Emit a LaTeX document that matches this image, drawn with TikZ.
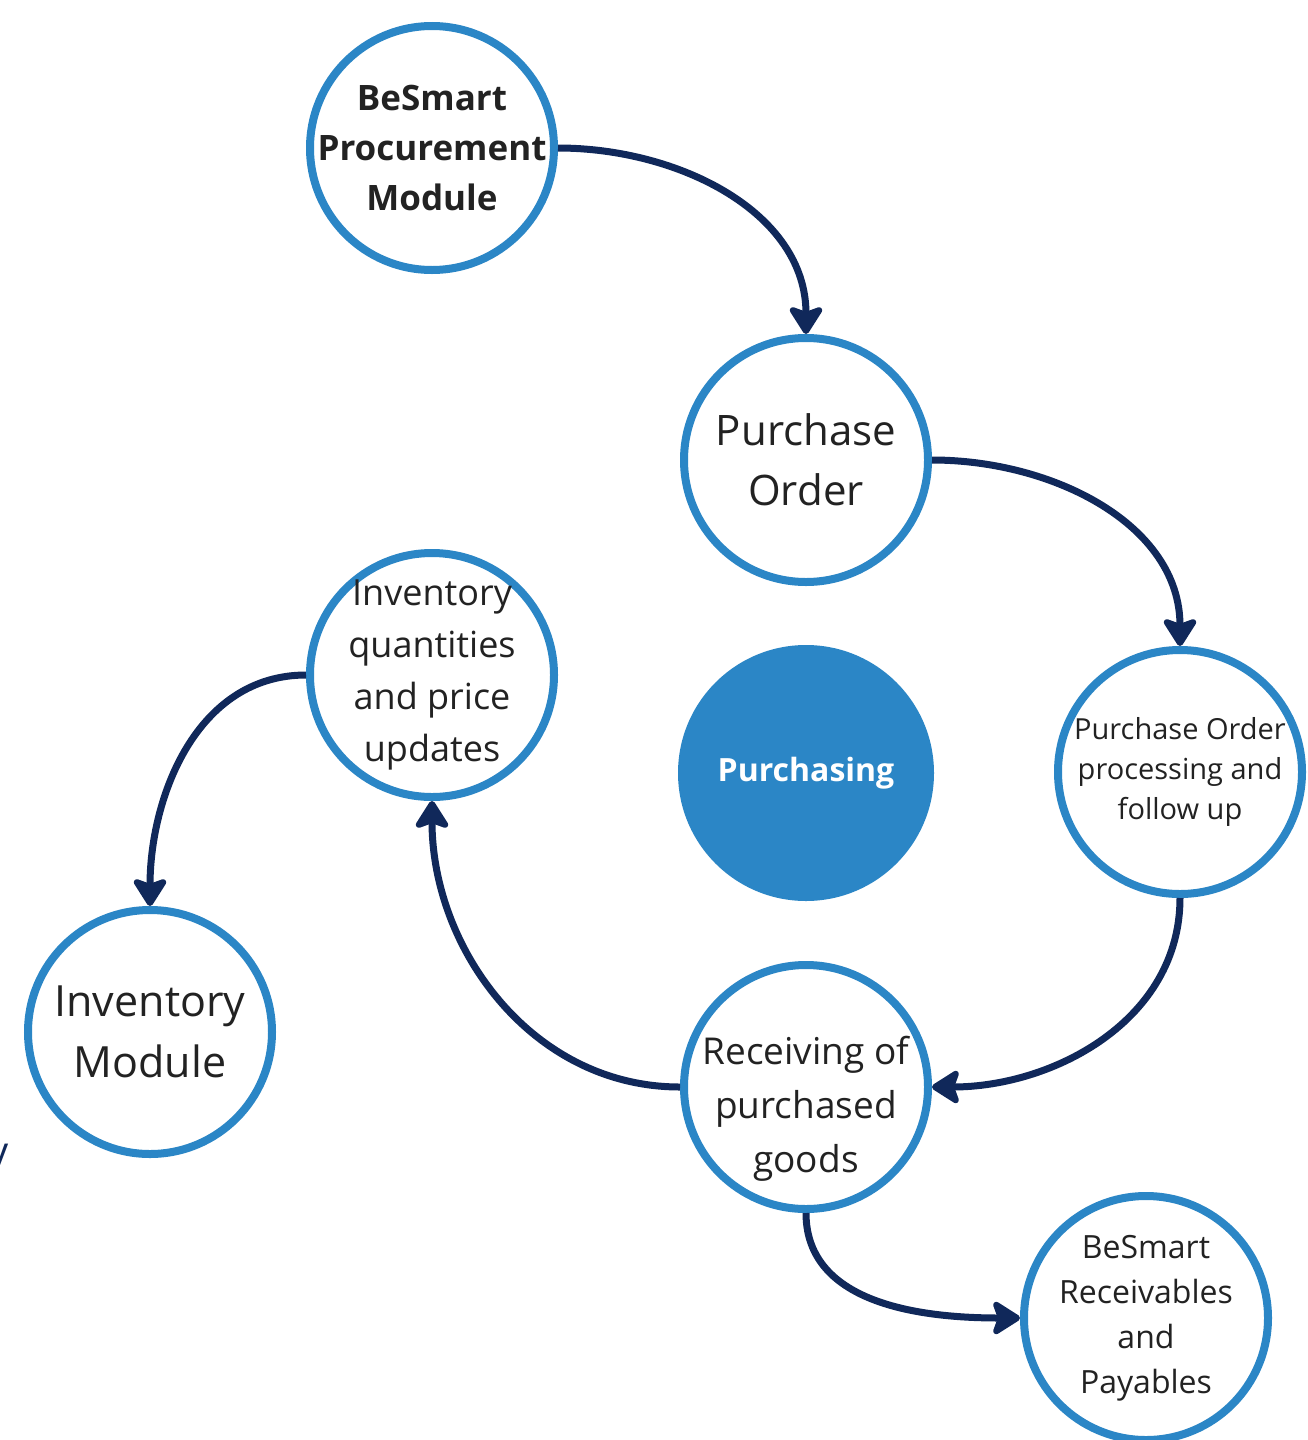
\documentclass[tikz,border=0pt]{standalone}
\usepackage{fontspec}
\setmainfont{Open Sans}
\usepackage{xcolor}
\usetikzlibrary{arrows.meta}
\definecolor{ringblue}{HTML}{2B86C6}
\definecolor{arrownavy}{HTML}{10285A}
\definecolor{textgrey}{HTML}{222222}

\begin{document}
\begin{tikzpicture}[x=1pt,y=-1pt,
	stage/.style={circle,draw=ringblue,line width=8pt,fill=white,minimum size=244pt,inner sep=-30pt,align=center,text=textgrey},
	hub/.style={circle,fill=ringblue,minimum size=256pt,inner sep=0pt,text=white,font=\bfseries\fontsize{32}{40}\selectfont},
	flow/.style={draw=arrownavy,line width=7pt,-{Stealth[length=32pt,width=40pt,inset=7pt,round]}}]
	\useasboundingbox[fill=white] (0,0) rectangle (1308,1440);
	\node[stage,font=\bfseries\fontsize{35}{50}\selectfont] (proc) at (432,148) {BeSmart\\Procurement\\Module};
	\node[stage,font=\fontsize{42}{60}\selectfont] (po) at (806,460) {Purchase\\Order};
	\node[stage,font=\fontsize{29}{40}\selectfont] (follow) at (1180,772) {Purchase Order\\processing and\\follow up};
	\node[hub] (purch) at (806,773) {Purchasing};
	\node[stage,font=\fontsize{36}{52}\selectfont] (invupd) at (432,675) {Inventory\\quantities\\and price\\updates};
	\node[stage,label={[align=center,text=textgrey,font=\fontsize{37}{54}\selectfont,yshift=-22pt]center:{Receiving of\\purchased\\goods}}] (recv) at (806,1087) {};
	\node[stage,font=\fontsize{43}{61}\selectfont] (invmod) at (150,1032) {Inventory\\Module};
	\node[stage,font=\fontsize{32}{45}\selectfont] (ledger) at (1146,1318) {BeSmart\\Receivables\\and\\Payables};
	\node[text=arrownavy,font=\fontsize{40}{40}\selectfont,anchor=east,inner sep=0pt] (cut) at (9,1160) {y};
	\draw[flow] (proc.east) to[out=0,in=90] (po.north);
	\draw[flow] (po.east) to[out=0,in=90] (follow.north);
	\draw[flow] (follow.south) to[out=-90,in=0] (recv.east);
	\draw[flow] (recv.west) to[out=180,in=-90] (invupd.south);
	\draw[flow] (invupd.west) to[out=180,in=90] (invmod.north);
	\draw[flow] (recv.south) to[out=-90,in=180] (ledger.west);
\end{tikzpicture}
\end{document}
